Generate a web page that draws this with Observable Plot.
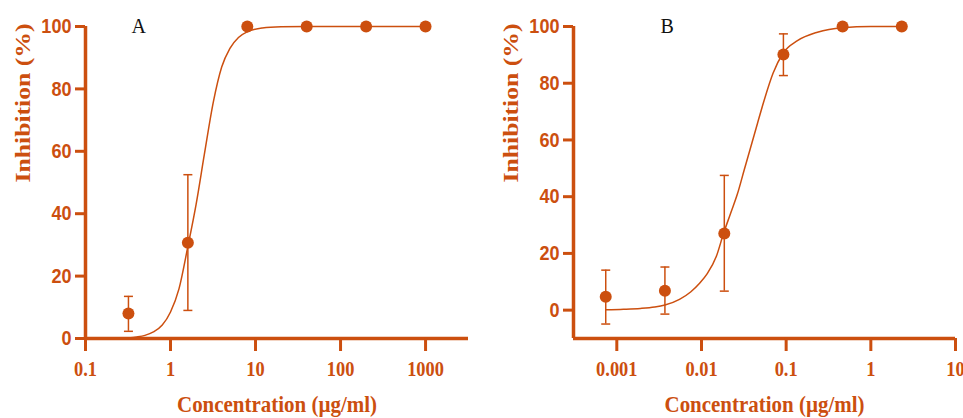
<!DOCTYPE html>
<html>
<head>
<meta charset="utf-8">
<script src="https://cdn.jsdelivr.net/npm/d3@7"></script>
<script src="https://cdn.jsdelivr.net/npm/@observablehq/plot@0.6"></script>
<style>
  html, body { margin: 0; padding: 0; background: #fff; overflow: hidden; }
  #wrap { display: flex; width: 963px; height: 418px; }
  #wrap svg { display: block; overflow: hidden; }
</style>
</head>
<body>
<div id="wrap"></div>
<script>
// ---------- Panel A data ----------
const concA = [0.32, 1.6, 8, 40, 200, 1000];
const meanA = [8, 30.7, 100, 100, 100, 100];
const errLowA = [2.3, 9, null, null, null, null];
const errHighA = [13.5, 52.5, null, null, null, null];
const curveConcA = [0.32, 0.4, 0.5, 0.63, 0.8, 1.0, 1.26, 1.6, 2.0, 2.5, 3.2, 4.0, 5.0, 6.3, 8.0, 12, 20, 40, 200, 1000];
const curveInhA  = [0.2, 0.5, 1.0, 2.1, 4.3, 8.5, 16, 29.5, 43, 59, 76, 87, 93, 96.5, 98.3, 99.5, 99.9, 100, 100, 100];
const ticksXA = [0.1, 1, 10, 100, 1000];

// ---------- Panel B data ----------
const concB = [0.00074, 0.0037, 0.0186, 0.0928, 0.464, 2.32];
const meanB = [4.7, 6.8, 27, 90.1, 100, 100];
const errLowB = [-4.9, -1.4, 6.7, 82.7, null, null];
const errHighB = [14.1, 15.2, 47.5, 97.4, null, null];
const curveConcB = [0.00074, 0.0012, 0.0019, 0.0028, 0.0037, 0.0055, 0.0075, 0.0095, 0.0117, 0.015, 0.0182, 0.022, 0.0266, 0.032, 0.0382, 0.046, 0.055, 0.07, 0.091, 0.136, 0.234, 0.46, 1.0, 2.32];
const curveInhB  = [0.1, 0.3, 0.6, 1.1, 1.8, 3.8, 6.5, 9.5, 12.9, 19, 27, 34, 41, 49.5, 57.5, 66, 74, 83.5, 90.4, 95, 98, 99.6, 100, 100];
const ticksXB = [0.001, 0.01, 0.1, 1, 10];

const ticksY = [0, 20, 40, 60, 80, 100];
const titles = ["A", "B"];
const xLabel = "Concentration (\u00b5g/ml)";
const yLabel = "Inhibition (%)";

const ORANGE = "#cc4f0f";
const serif = "'Liberation Serif', 'Times New Roman', serif";
const sans = "'Liberation Sans', Arial, sans-serif";

const cap = { draw(ctx) { ctx.moveTo(-4.5, 0); ctx.lineTo(4.5, 0); } };

function rows(conc, mean, lo, hi) {
  return conc.map((c, i) => ({c, m: mean[i], lo: lo[i], hi: hi[i]}));
}

function panel({width, marginLeft, marginRight, xDomain, yDomain, xTicks, conc, mean, lo, hi, cConc, cInh, title, titleDx, xAxisAt}) {
  const pts = rows(conc, mean, lo, hi);
  const errs = pts.filter(d => d.lo != null);
  const curve = cConc.map((c, i) => ({c, v: cInh[i]}));
  return Plot.plot({
    width, height: 418,
    marginTop: 26, marginBottom: 80, marginLeft, marginRight,
    style: {color: ORANGE, background: "#fff", overflow: "hidden"},
    x: {type: "log", domain: xDomain},
    y: {domain: yDomain},
    marks: [
      // axis lines
      Plot.ruleY([xAxisAt], {x1: xDomain[0], x2: xDomain[1], stroke: ORANGE, strokeWidth: 3.5}),
      Plot.ruleX([xDomain[0]], {y1: xAxisAt, y2: 100, stroke: ORANGE, strokeWidth: 3.5}),
      Plot.axisX({ticks: xTicks, tickFormat: d => String(d), tickSize: 13, tickPadding: 10,
        fontSize: 20, fontWeight: "bold", fontFamily: serif, stroke: ORANGE, fill: ORANGE, strokeWidth: 3, label: null, className: "xt"}),
      Plot.axisY({ticks: ticksY, tickSize: 10, tickPadding: 4,
        fontSize: 21, fontWeight: "bold", fontFamily: sans, stroke: ORANGE, fill: ORANGE, strokeWidth: 3, label: null, className: "yt"}),
      // fitted curve
      Plot.line(curve, {x: "c", y: "v", stroke: ORANGE, strokeWidth: 1.5, curve: "monotone-x"}),
      // error bars
      Plot.ruleX(errs, {x: "c", y1: "lo", y2: "hi", stroke: ORANGE, strokeWidth: 1.5}),
      Plot.dot(errs, {x: "c", y: "lo", symbol: cap, stroke: ORANGE, strokeWidth: 1.5, fill: "none"}),
      Plot.dot(errs, {x: "c", y: "hi", symbol: cap, stroke: ORANGE, strokeWidth: 1.5, fill: "none"}),
      // points
      Plot.dot(pts, {x: "c", y: "m", r: 6, fill: ORANGE, stroke: "none"}),
      // axis titles
      Plot.text([xLabel], {frameAnchor: "bottom", lineAnchor: "bottom", dy: 73, fontSize: 24,
        fontWeight: "bold", fontFamily: serif, fill: ORANGE, className: "xlab"}),
      Plot.text([yLabel], {frameAnchor: "left", rotate: -90, dx: -63, fontSize: 22,
        fontWeight: "bold", fontFamily: serif, fill: ORANGE, className: "ylab"}),
      // panel letter
      Plot.text([title], {frameAnchor: "top-left", lineAnchor: "bottom", dx: titleDx, dy: 6, fontSize: 20,
        fontFamily: serif, fill: "#111"})
    ]
  });
}

const wrap = document.getElementById("wrap");
const a = panel({width: 480, marginLeft: 85, marginRight: 12, xDomain: [0.1, 3200], yDomain: [0, 100],
  xTicks: ticksXA, conc: concA, mean: meanA, lo: errLowA, hi: errHighA, cConc: curveConcA, cInh: curveInhA,
  title: titles[0], titleDx: 46, xAxisAt: 0});
const b = panel({width: 483, marginLeft: 93, marginRight: 8, xDomain: [0.000308, 10], yDomain: [-10, 100],
  xTicks: ticksXB, conc: concB, mean: meanB, lo: errLowB, hi: errHighB, cConc: curveConcB, cInh: curveInhB,
  title: titles[1], titleDx: 87, xAxisAt: -10});
wrap.append(a, b);

// stretch axis titles to the reference lengths
d3.selectAll(".xlab text").attr("textLength", 200).attr("lengthAdjust", "spacingAndGlyphs");
d3.selectAll(".ylab text").attr("textLength", 159).attr("lengthAdjust", "spacingAndGlyphs");
// narrow the tick labels horizontally (reference glyphs are condensed)
function squeeze(sel, k) {
  d3.selectAll(sel).each(function() {
    const t = this.getAttribute("transform");
    if (t && t.includes("translate")) this.setAttribute("transform", t + ` scale(${k},1)`);
  });
}
squeeze(".yt text", 0.86);
squeeze(".xt text", 0.92);
</script>
</body>
</html>
